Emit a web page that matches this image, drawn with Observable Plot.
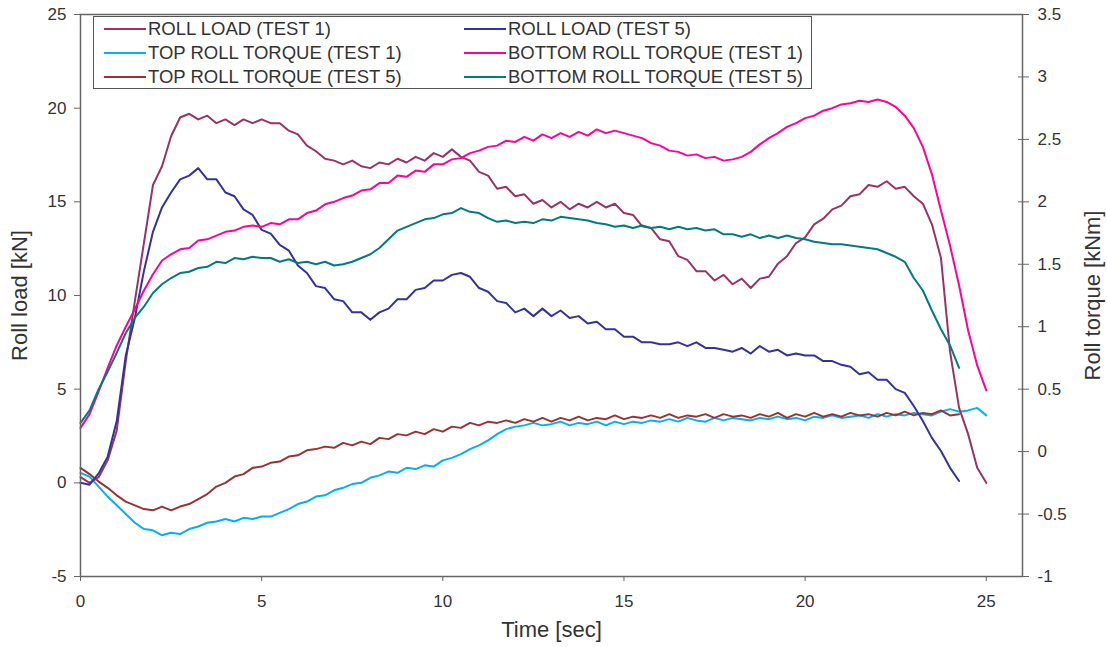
<!DOCTYPE html>
<html><head><meta charset="utf-8">
<script src="https://cdn.jsdelivr.net/npm/d3@7"></script>
<script src="https://cdn.jsdelivr.net/npm/@observablehq/plot@0.6"></script>
<style>
body{margin:0;background:#fff;font-family:"Liberation Sans",Arial,sans-serif}
#wrap{position:relative;width:1107px;height:647px;background:#fff}
#wrap svg{position:absolute;left:0;top:0}
#legend{position:absolute;left:93px;top:16px;width:719px;height:73px;border:1.5px solid #555;background:#fff;box-sizing:border-box}
.item{position:absolute;height:24px;display:flex;align-items:center;font-size:18.5px;color:#333;white-space:nowrap}
.swatch{width:42px;height:0;border-top:2.5px solid;margin-right:2px}
</style></head><body><div id="wrap"></div>
<script>
// Time samples [sec]
const time = [0,0.25,0.5,0.75,1,1.25,1.5,1.75,2,2.25,2.5,2.75,3,3.25,3.5,3.75,4,4.25,4.5,4.75,5,5.25,5.5,5.75,6,6.25,6.5,6.75,7,7.25,7.5,7.75,8,8.25,8.5,8.75,9,9.25,9.5,9.75,10,10.25,10.5,10.75,11,11.25,11.5,11.75,12,12.25,12.5,12.75,13,13.25,13.5,13.75,14,14.25,14.5,14.75,15,15.25,15.5,15.75,16,16.25,16.5,16.75,17,17.25,17.5,17.75,18,18.25,18.5,18.75,19,19.25,19.5,19.75,20,20.25,20.5,20.75,21,21.25,21.5,21.75,22,22.25,22.5,22.75,23,23.25,23.5,23.75,24,24.25,24.5,24.75,25];

// Roll load [kN] (left axis)
const rollLoadTest1 = [0.3,0.0,0.3,1.2, 2.8,6.5,9.7,12.8, 15.9,16.9,18.5,19.5, 19.7,19.4,19.6,19.2, 19.4,19.1,19.4,19.2, 19.4,19.2,19.2,18.8, 18.6,18.0,17.7,17.3, 17.2,17.0,17.2,16.9, 16.8,17.1,17.0,17.3, 17.1,17.4,17.2,17.6, 17.4,17.8,17.4,17.2, 16.6,16.4,15.7,15.8, 15.3,15.4,14.9,15.1, 14.7,15.0,14.6,14.9, 14.7,15.0,14.7,14.9, 14.4,14.3,13.7,13.6, 13.0,12.9,12.1,11.9, 11.3,11.3,10.8,11.1, 10.6,10.9,10.4,10.9, 11.0,11.7,12.1,12.8, 13.1,13.8,14.1,14.6, 14.8,15.3,15.4,15.9, 15.8,16.1,15.7,15.8, 15.3,14.9,13.8,12.0, 7.0,4.0,2.6,0.8, 0.0];
const rollLoadTest5 = [0.0,-0.1,0.5,1.4, 3.3,6.8,8.8,11.3, 13.4,14.7,15.5,16.2, 16.4,16.8,16.2,16.2, 15.5,15.3,14.6,14.3, 13.5,13.3,12.7,12.4, 11.6,11.2,10.5,10.4, 9.8,9.7,9.1,9.1, 8.7,9.1,9.3,9.8, 9.8,10.3,10.4,10.8, 10.8,11.1,11.2,11.0, 10.4,10.2,9.7,9.6, 9.1,9.3,8.9,9.3, 8.9,9.2,8.8,8.9, 8.5,8.6,8.2,8.2, 7.8,7.8,7.5,7.5, 7.4,7.4,7.5,7.3, 7.5,7.2,7.2,7.1, 7.0,7.2,6.9,7.3, 7.0,7.1,6.8,6.9, 6.8,6.8,6.5,6.5, 6.3,6.2,5.8,5.9, 5.5,5.5,5.0,4.8, 4.1,3.3,2.4,1.7, 0.8,0.1];

// Roll torque [kNm] (right axis)
const topTorqueTest1 = [-0.17,-0.20,-0.28,-0.36, -0.43,-0.50,-0.57,-0.62, -0.63,-0.67,-0.65,-0.66, -0.62,-0.60,-0.57,-0.56, -0.54,-0.56,-0.53,-0.54, -0.52,-0.52,-0.49,-0.46, -0.42,-0.40,-0.36,-0.35, -0.31,-0.29,-0.26,-0.25, -0.21,-0.19,-0.16,-0.17, -0.13,-0.14,-0.11,-0.12, -0.07,-0.05,-0.02,0.02, 0.05,0.09,0.14,0.18, 0.20,0.21,0.23,0.21, 0.22,0.24,0.21,0.23, 0.22,0.24,0.21,0.24, 0.22,0.24,0.23,0.25, 0.24,0.26,0.24,0.27, 0.25,0.24,0.27,0.25, 0.27,0.26,0.25,0.27, 0.26,0.28,0.26,0.27, 0.25,0.28,0.27,0.29, 0.27,0.28,0.29,0.27, 0.30,0.28,0.30,0.29, 0.31,0.30,0.29,0.32, 0.34,0.32,0.33,0.35, 0.29];
const bottomTorqueTest1 = [0.19,0.30,0.48,0.67, 0.85,1.00,1.14,1.29, 1.42,1.53,1.58,1.62, 1.63,1.69,1.70,1.73, 1.76,1.77,1.80,1.81, 1.80,1.83,1.82,1.86, 1.86,1.91,1.93,1.98, 2.00,2.03,2.05,2.09, 2.10,2.15,2.15,2.21, 2.20,2.25,2.24,2.30, 2.30,2.34,2.35,2.39, 2.41,2.44,2.45,2.49, 2.48,2.52,2.49,2.54, 2.51,2.55,2.52,2.56, 2.53,2.58,2.55,2.57, 2.55,2.53,2.51,2.47, 2.45,2.41,2.40,2.37, 2.38,2.35,2.36,2.33, 2.34,2.36,2.40,2.46, 2.51,2.55,2.60,2.63, 2.67,2.69,2.73,2.75, 2.78,2.79,2.81,2.80, 2.82,2.80,2.76,2.69, 2.59,2.44,2.22,1.93, 1.65,1.33,0.97,0.69, 0.49];
const topTorqueTest5 = [-0.13,-0.18,-0.24,-0.29, -0.35,-0.40,-0.43,-0.46, -0.47,-0.44,-0.47,-0.44, -0.42,-0.38,-0.34,-0.28, -0.25,-0.20,-0.18,-0.13, -0.12,-0.09,-0.08,-0.04, -0.03,0.01,0.02,0.04, 0.03,0.07,0.05,0.08, 0.06,0.11,0.10,0.14, 0.13,0.16,0.14,0.18, 0.16,0.20,0.19,0.23, 0.21,0.24,0.23,0.25, 0.23,0.26,0.24,0.27, 0.24,0.27,0.25,0.28, 0.25,0.27,0.26,0.29, 0.26,0.28,0.27,0.29, 0.27,0.30,0.27,0.29, 0.28,0.30,0.27,0.30, 0.28,0.29,0.27,0.30, 0.28,0.31,0.27,0.30, 0.28,0.31,0.28,0.30, 0.28,0.31,0.29,0.30, 0.28,0.31,0.29,0.32, 0.29,0.31,0.30,0.33, 0.29,0.30];
const bottomTorqueTest5 = [0.23,0.33,0.50,0.64, 0.79,0.95,1.07,1.16, 1.27,1.34,1.39,1.43, 1.44,1.47,1.48,1.52, 1.51,1.55,1.54,1.56, 1.55,1.55,1.52,1.54, 1.51,1.52,1.50,1.52, 1.49,1.50,1.52,1.55, 1.58,1.63,1.70,1.77, 1.80,1.83,1.86,1.87, 1.90,1.91,1.95,1.92, 1.91,1.87,1.84,1.85, 1.83,1.84,1.83,1.86, 1.85,1.88,1.87,1.86, 1.85,1.83,1.82,1.80, 1.81,1.79,1.81,1.79, 1.80,1.78,1.80,1.78, 1.79,1.77,1.78,1.74, 1.74,1.72,1.74,1.71, 1.73,1.71,1.73,1.71, 1.70,1.68,1.67,1.66, 1.66,1.65,1.64,1.63, 1.62,1.59,1.56,1.52, 1.39,1.29,1.13,0.98, 0.85,0.67];

const seriesNames = ["ROLL LOAD (TEST 1)","ROLL LOAD (TEST 5)","TOP ROLL TORQUE (TEST 1)","BOTTOM ROLL TORQUE (TEST 1)","TOP ROLL TORQUE (TEST 5)","BOTTOM ROLL TORQUE (TEST 5)"];
const seriesValues = [rollLoadTest1, rollLoadTest5, topTorqueTest1, bottomTorqueTest1, topTorqueTest5, bottomTorqueTest5];
const seriesAxis = ["load","load","torque","torque","torque","torque"];
const seriesColors = ["#993366","#333399","#00B0F0","#FF0099","#993333","#007B80"];

const timeTicks = [0,5,10,15,20,25];
const loadTicks = [-5,0,5,10,15,20,25];
const torqueTicks = [-1,-0.5,0,0.5,1,1.5,2,2.5,3,3.5];
const loadDomain = [-5,25];
const torqueDomain = [-1,3.5];
const timeDomain = [0,26];

const torqueToLoad = d3.scaleLinear().domain(torqueDomain).range(loadDomain);
const torqueLabel = new Map(torqueTicks.map(t => [torqueToLoad(t), String(t)]));

const drawOrder = [2,4,0,1,3,5];
const rows = drawOrder.flatMap(k => seriesValues[k].map((v, i) => ({
  t: time[i],
  y: seriesAxis[k] === "load" ? v : torqueToLoad(v),
  name: seriesNames[k]
})));

const font = '"Liberation Sans", Arial, sans-serif';
const plot = Plot.plot({
  width: 1107, height: 647,
  marginLeft: 80, marginRight: 85, marginTop: 14, marginBottom: 71,
  style: {fontFamily: font, color: "#333", background: "#fff", overflow: "visible"},
  x: {domain: timeDomain},
  y: {domain: loadDomain},
  color: {domain: seriesNames, range: seriesColors},
  marks: [
    Plot.axisX({ticks: timeTicks, tickSize: 5, tickPadding: 13, fontSize: 17, label: null, stroke: "#666", tickFormat: d => String(d)}),
    Plot.axisY({ticks: loadTicks, tickSize: 6, tickPadding: 8, fontSize: 17, label: null, stroke: "#666", tickFormat: d => String(d)}),
    Plot.axisY({anchor: "right", ticks: torqueTicks.map(torqueToLoad), tickSize: 11, dx: -5, fill: "none", stroke: "#666", label: null}),
    Plot.axisY({anchor: "right", ticks: torqueTicks.map(torqueToLoad), tickSize: 0, tickPadding: 15, fontSize: 17, label: null, tickFormat: d => torqueLabel.get(d)}),
    Plot.line(rows, {x: "t", y: "y", z: "name", stroke: "name", strokeWidth: 2}),
    Plot.frame({stroke: "#666", strokeWidth: 1.5}),
    Plot.text(["Time [sec]"], {text: d => d, frameAnchor: "bottom", textAnchor: "middle", dy: 60, fontSize: 22, fill: "#333"}),
    Plot.text(["Roll load [kN]"], {text: d => d, frameAnchor: "left", textAnchor: "middle", dx: -61, rotate: -90, fontSize: 22, fill: "#333"}),
    Plot.text(["Roll torque [kNm]"], {text: d => d, frameAnchor: "right", textAnchor: "middle", dx: 70, rotate: -90, fontSize: 22, fill: "#333"})
  ]
});
const wrap = document.getElementById("wrap");
wrap.appendChild(plot);

// Legend (two columns, row-wise order)
const legend = document.createElement("div");
legend.id = "legend";
seriesNames.forEach((name, i) => {
  const col = i % 2, row = Math.floor(i / 2);
  const item = document.createElement("div");
  item.className = "item";
  item.style.left = (col ? 370 : 10) + "px";
  item.style.top = (row * 24) + "px";
  const sw = document.createElement("span");
  sw.className = "swatch";
  sw.style.borderTopColor = seriesColors[i];
  const tx = document.createElement("span");
  tx.textContent = name;
  item.appendChild(sw); item.appendChild(tx);
  legend.appendChild(item);
});
wrap.appendChild(legend);
</script></body></html>
